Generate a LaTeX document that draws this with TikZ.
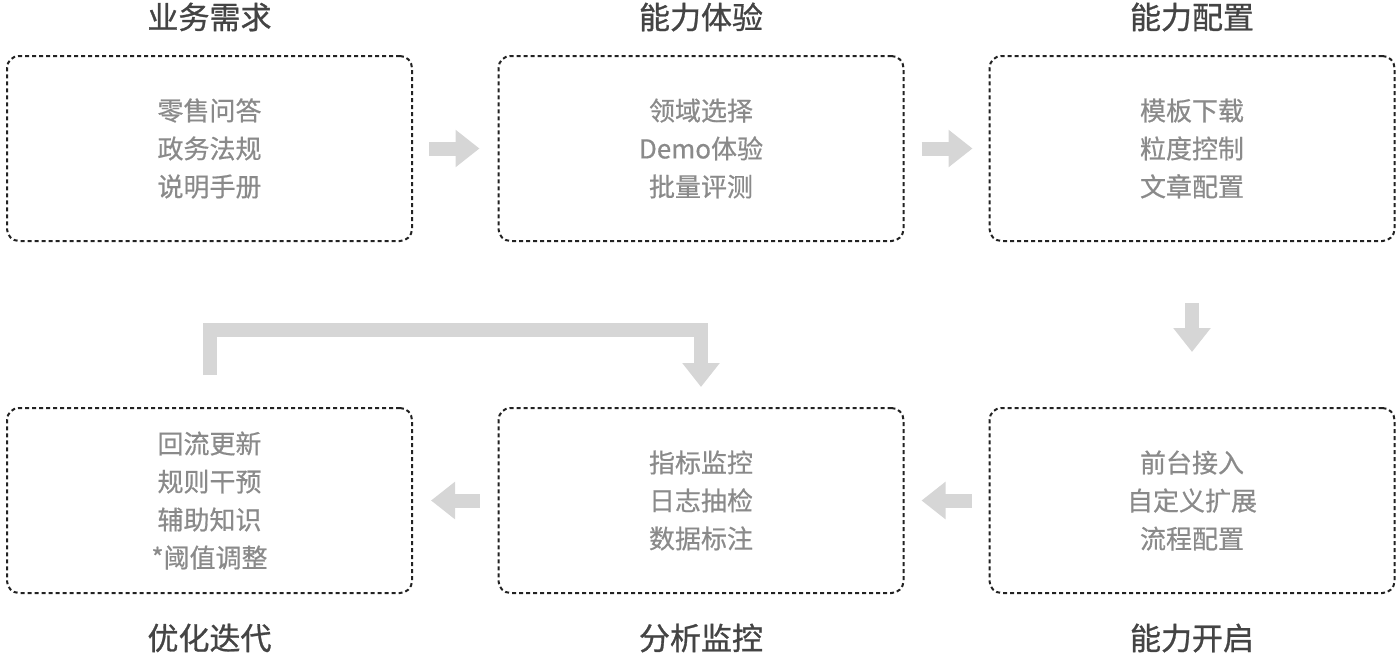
\documentclass[tikz,border=0pt]{standalone}
\usepackage{fontspec}
\setmainfont{Noto Sans CJK SC}[FakeBold=0.6]
\newfontfamily\titlefont{Noto Sans CJK SC}[FakeBold=0.9]
\usetikzlibrary{arrows.meta}
\definecolor{boxline}{HTML}{222222}
\definecolor{bodytext}{HTML}{8A8A8A}
\definecolor{titletext}{HTML}{444444}
\definecolor{arrowgray}{HTML}{D6D6D6}
\tikzset{
  stagebox/.style={draw=boxline, line width=1pt, dash pattern=on 2pt off 1.5pt,
    rounded corners=6pt, minimum width=202.5pt, minimum height=92.5pt,
    align=center, text=bodytext, font=\fontsize{13pt}{19pt}\selectfont},
  stagetitle/.style={text=titletext, font=\titlefont\fontsize{15.5pt}{18pt}\selectfont},
  blockarrow/.style={draw=arrowgray, line width=7pt,
    -{Triangle[width=18pt,length=12pt]}}
}
\begin{document}
\begin{tikzpicture}[x=0.5pt,y=-0.5pt]
    \useasboundingbox (0,0) rectangle (1400,659);
    % top row
    \node[stagebox] (b1) at (209.5,148.5) {零售问答\\政务法规\\说明手册};
    \node[stagebox] (b2) at (701,148.5) {领域选择\\Demo体验\\批量评测};
    \node[stagebox] (b3) at (1192,148.5) {模板下载\\粒度控制\\文章配置};
    \node[stagetitle] (t1) at (209.5,17) {业务需求};
    \node[stagetitle] (t2) at (701,17) {能力体验};
    \node[stagetitle] (t3) at (1192,17) {能力配置};
    % bottom row
    \node[stagebox] (b4) at (209.5,500.5) {回流更新\\规则干预\\辅助知识\\*阈值调整};
    \node[stagebox] (b5) at (701,500.5) {指标监控\\日志抽检\\数据标注};
    \node[stagebox] (b6) at (1192,500.5) {前台接入\\自定义扩展\\流程配置};
    \node[stagetitle] (t4) at (209.5,638) {优化迭代};
    \node[stagetitle] (t5) at (701,638) {分析监控};
    \node[stagetitle] (t6) at (1192,638) {能力开启};
    % flow arrows
    \draw[blockarrow, shorten <=8pt, shorten >=9pt] (b1.east) -- (b2.west);
    \draw[blockarrow, shorten <=8.5pt, shorten >=8pt] (b2.east) -- (b3.west);
    \draw[blockarrow, shorten <=30.5pt, shorten >=27.5pt] (b3.south) -- (b6.north);
    \draw[blockarrow, shorten <=8.5pt, shorten >=8.5pt] (b6.west) -- (b5.east);
    \draw[blockarrow, shorten <=9pt, shorten >=9pt] (b5.west) -- (b4.east);
    % feedback loop
    \coordinate (loop) at (0,330);
    \draw[blockarrow, shorten <=16pt, shorten >=10pt]
      (b4.north) -- (b4.north |- loop) -- (b5.north |- loop) -- (b5.north);
\end{tikzpicture}
\end{document}
